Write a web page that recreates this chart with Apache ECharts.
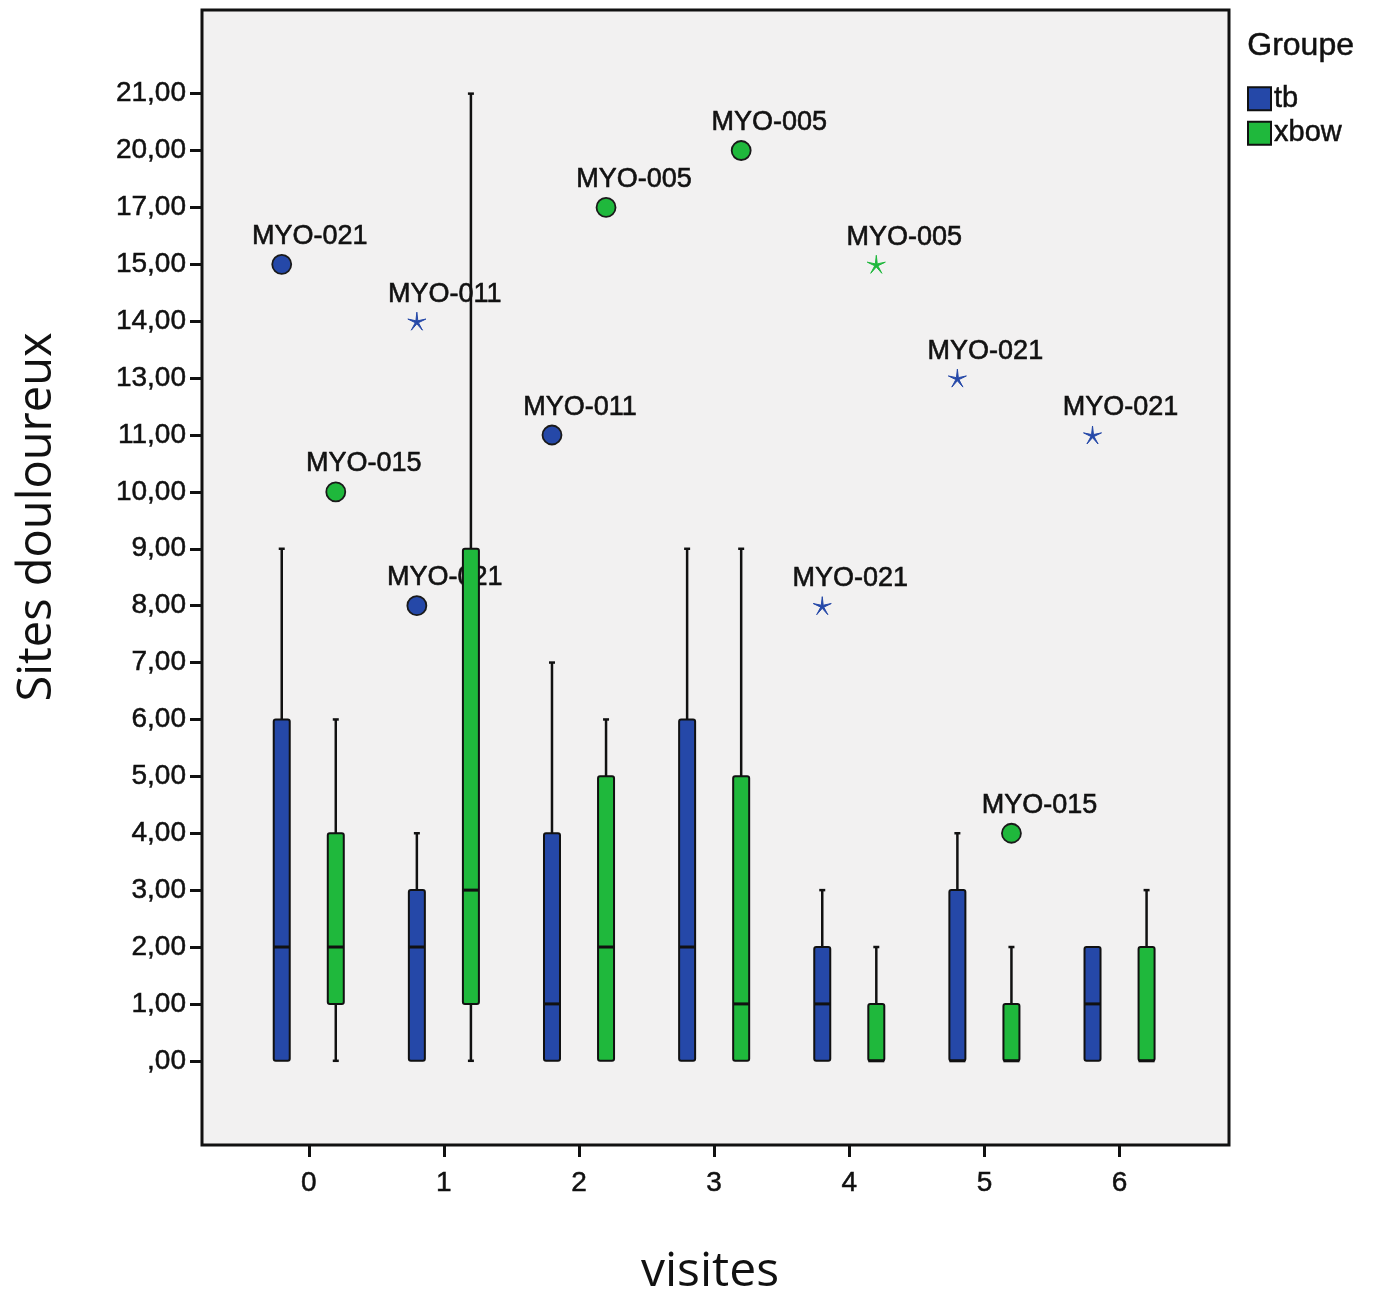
<!DOCTYPE html>
<html>
<head>
<meta charset="utf-8">
<script src="https://cdn.jsdelivr.net/npm/echarts@6/dist/echarts.min.js"></script>
<style>
  html, body { margin: 0; background: #fff; }
  #chart { width: 1377px; height: 1297px; }
</style>
</head>
<body>
<div id="chart"></div>
<script>
var visits = [0, 1, 2, 3, 4, 5, 6];
var groups = ['tb', 'xbow'];
var groupColors = ['#2548a8', '#1fb83c'];

// the y axis of the original is ordinal: only observed values get a tick
var yTickValues = [0, 1, 2, 3, 4, 5, 6, 7, 8, 9, 10, 11, 13, 14, 15, 17, 20, 21];
var yTickLabels = [',00', '1,00', '2,00', '3,00', '4,00', '5,00', '6,00', '7,00', '8,00',
  '9,00', '10,00', '11,00', '13,00', '14,00', '15,00', '17,00', '20,00', '21,00'];

// [min, Q1, median, Q3, max] per visit
var tbBox = [[0, 0, 2, 6, 9], [0, 0, 2, 3, 4], [0, 0, 1, 4, 7], [0, 0, 2, 6, 9],
  [0, 0, 1, 2, 3], [0, 0, 0, 3, 4], [0, 0, 1, 2, 2]];
var xbowBox = [[0, 1, 2, 4, 6], [0, 1, 3, 9, 21], [0, 0, 2, 5, 6], [0, 0, 1, 5, 9],
  [0, 0, 0, 1, 2], [0, 0, 0, 1, 2], [0, 0, 0, 2, 3]];

// outliers: [visit, value, patient]
var tbCircles = [[0, 15, 'MYO-021'], [1, 8, 'MYO-021'], [2, 11, 'MYO-011']];
var tbStars = [[1, 14, 'MYO-011'], [4, 8, 'MYO-021'], [5, 13, 'MYO-021'], [6, 11, 'MYO-021']];
var xbowCircles = [[0, 10, 'MYO-015'], [2, 17, 'MYO-005'], [3, 20, 'MYO-005'], [5, 4, 'MYO-015']];
var xbowStars = [[4, 15, 'MYO-005']];

var groupOffset = [-0.2, 0.2];
var FONT = 'Liberation Sans, Arial, sans-serif';

function pos(v) {
  return yTickValues.indexOf(v);
}

// thin five armed star, like the SPSS extreme marker
function starPath() {
  var pts = [];
  for (var i = 0; i < 10; i++) {
    var r = i % 2 === 0 ? 1 : 0.17;
    var a = -Math.PI / 2 + i * Math.PI / 5;
    pts.push((Math.cos(a) * r).toFixed(3) + ' ' + (Math.sin(a) * r).toFixed(3));
  }
  return 'path://M' + pts.join(' L') + ' Z';
}

function boxData(box, g) {
  return box.map(function (b, i) {
    return [visits[i] + groupOffset[g], pos(b[0]), pos(b[1]), pos(b[2]), pos(b[3]), pos(b[4])];
  });
}

function outlierData(list, g) {
  return list.map(function (o) {
    return { value: [o[0] + groupOffset[g], pos(o[1])], name: o[2] };
  });
}

function renderBox(params, api) {
  var x = api.value(0);
  var pMin = api.coord([x, api.value(1)]);
  var pQ1 = api.coord([x, api.value(2)]);
  var pMed = api.coord([x, api.value(3)]);
  var pQ3 = api.coord([x, api.value(4)]);
  var pMax = api.coord([x, api.value(5)]);
  var half = 8, cap = 3;
  var cx = pQ1[0];
  var stroke = { stroke: '#111', lineWidth: 2.5 };
  var children = [];
  if (pMax[1] < pQ3[1]) {
    children.push({ type: 'line', shape: { x1: cx, y1: pMax[1], x2: cx, y2: pQ3[1] }, style: stroke });
    children.push({ type: 'line', shape: { x1: cx - cap, y1: pMax[1], x2: cx + cap, y2: pMax[1] }, style: stroke });
  }
  if (pMin[1] > pQ1[1]) {
    children.push({ type: 'line', shape: { x1: cx, y1: pQ1[1], x2: cx, y2: pMin[1] }, style: stroke });
    children.push({ type: 'line', shape: { x1: cx - cap, y1: pMin[1], x2: cx + cap, y2: pMin[1] }, style: stroke });
  }
  children.push({
    type: 'rect',
    shape: { x: cx - half, y: pQ3[1], width: half * 2, height: pQ1[1] - pQ3[1], r: 2 },
    style: { fill: api.visual('color'), stroke: '#111', lineWidth: 2 }
  });
  children.push({
    type: 'line',
    shape: { x1: cx - half, y1: pMed[1], x2: cx + half, y2: pMed[1] },
    style: { stroke: '#111', lineWidth: 3 }
  });
  return { type: 'group', children: children };
}

var labelStyle = {
  show: true,
  position: 'top',
  distance: 4,
  offset: [28, 0],
  formatter: '{b}',
  fontFamily: FONT,
  fontSize: 27,
  color: '#111',
  textBorderColor: '#111',
  textBorderWidth: 0.6
};

function outlierSeries(name, list, g, star) {
  return {
    name: name,
    type: 'scatter',
    z: 3,
    data: outlierData(list, g),
    symbol: star ? starPath() : 'circle',
    symbolSize: star ? 18 : 19,
    itemStyle: star
      ? { color: groupColors[g], borderColor: groupColors[g], borderWidth: 1, opacity: 1 }
      : { color: groupColors[g], borderColor: '#1a1a1a', borderWidth: 1.8, opacity: 1 },
    label: labelStyle
  };
}

var chart = echarts.init(document.getElementById('chart'));

chart.setOption({
  animation: false,
  backgroundColor: '#fff',
  grid: {
    left: 202, right: 148, top: 10, bottom: 152,
    show: true,
    backgroundColor: '#f2f1f1',
    borderColor: '#111',
    borderWidth: 3
  },
  legend: {
    data: groups,
    orient: 'vertical',
    left: 1247,
    top: 84,
    padding: 0,
    itemWidth: 23,
    itemHeight: 23,
    itemGap: 5,
    icon: 'rect',
    itemStyle: { borderColor: '#111', borderWidth: 2 },
    textStyle: {
      fontFamily: FONT, fontSize: 29, color: '#111',
      textBorderColor: '#111', textBorderWidth: 0.5, padding: [0, 0, 0, -2]
    }
  },
  xAxis: {
    type: 'value',
    min: -0.79,
    max: 6.81,
    splitLine: { show: false },
    axisLine: { show: false, onZero: false },
    axisTick: { show: true, customValues: visits, length: 12, lineStyle: { color: '#111', width: 3 } },
    axisLabel: {
      customValues: visits,
      margin: 24,
      fontFamily: FONT,
      fontSize: 28,
      color: '#111',
      textBorderColor: '#111',
      textBorderWidth: 0.5
    }
  },
  yAxis: {
    type: 'value',
    min: -1.48,
    max: 18.47,
    splitLine: { show: false },
    axisLine: { show: false, onZero: false },
    axisTick: {
      show: true,
      customValues: yTickValues.map(function (v, i) { return i; }),
      length: 12,
      lineStyle: { color: '#111', width: 3 }
    },
    axisLabel: {
      customValues: yTickValues.map(function (v, i) { return i; }),
      margin: 16,
      formatter: function (v) { return yTickLabels[Math.round(v)]; },
      fontFamily: FONT,
      fontSize: 28,
      color: '#111',
      textBorderColor: '#111',
      textBorderWidth: 0.5
    }
  },
  graphic: [
    {
      type: 'text',
      left: 1247,
      top: 30,
      style: {
        text: 'Groupe', font: '32px "Liberation Sans", Arial, sans-serif', fill: '#111',
        stroke: '#111', lineWidth: 0.5
      }
    },
    {
      type: 'text',
      x: 38,
      y: 517,
      rotation: Math.PI / 2,
      style: {
        text: 'Sites douloureux',
        font: '47px "Open Sans", sans-serif',
        fill: '#111',
        align: 'center',
        verticalAlign: 'middle'
      }
    },
    {
      type: 'text',
      x: 710,
      y: 1272,
      style: {
        text: 'visites',
        font: '48px "Open Sans", sans-serif',
        fill: '#111',
        align: 'center',
        verticalAlign: 'middle'
      }
    }
  ],
  series: [
    outlierSeries('tb-circle', tbCircles, 0, false),
    outlierSeries('tb-star', tbStars, 0, true),
    outlierSeries('xbow-circle', xbowCircles, 1, false),
    outlierSeries('xbow-star', xbowStars, 1, true),
    {
      name: 'tb',
      type: 'custom',
      z: 5,
      color: groupColors[0],
      renderItem: renderBox,
      encode: { x: 0, y: [1, 2, 3, 4, 5] },
      data: boxData(tbBox, 0)
    },
    {
      name: 'xbow',
      type: 'custom',
      z: 5,
      color: groupColors[1],
      renderItem: renderBox,
      encode: { x: 0, y: [1, 2, 3, 4, 5] },
      data: boxData(xbowBox, 1)
    }
  ]
});
</script>
</body>
</html>
